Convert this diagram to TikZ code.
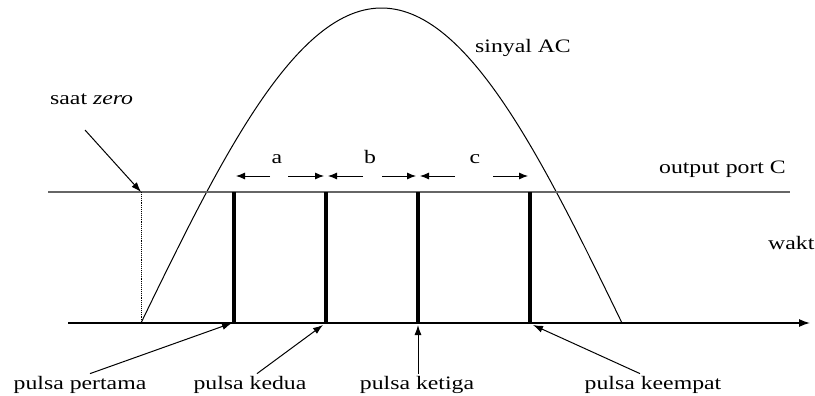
\documentclass[tikz,border=0pt]{standalone}
\usepackage{fontspec}
\setmainfont{Liberation Serif}[FakeStretch=1.25]
\usetikzlibrary{arrows.meta}
\begin{document}
\begin{tikzpicture}[x=1pt,y=-1pt,
  lbl/.style={font=\fontsize{19}{22}\selectfont, inner sep=0pt, anchor=base},
  ptr/.style={line width=1pt, -{Latex[length=10pt,width=7pt]}},
  dimarr/.style={line width=0.9pt, -{Latex[length=9pt,width=7pt]}},
  pulse/.style={line width=4pt},
]
\useasboundingbox[fill=white] (0,0) rectangle (815,396);
% baseline coordinates
\coordinate (ax0) at (68,323);
\coordinate (ax1) at (810,323);
\coordinate (oc0) at (48,192);
\coordinate (oc1) at (790,192);
\coordinate (z0) at (141,192);
\coordinate (z1) at (141,323);
\foreach \n/\x in {1/234,2/326,3/418,4/530}{
  \coordinate (pt\n) at (\x,192);
  \coordinate (pb\n) at (\x,323);
}
% sine signal
\draw[line width=1pt] plot[domain=0:180, samples=120] ({141+2.67222*\x}, {323-315*sin(\x)});
% output port C line
\draw[line width=1.8pt, black!60] (oc0) -- (oc1);
% time axis
\draw[line width=1.4pt, -{Latex[length=11pt,width=8pt]}] (ax0) -- (ax1);
% zero marker
\draw[densely dotted, line width=0.9pt] (z0) -- (z1);
% pulses
\foreach \n in {1,2,3,4}{ \draw[pulse] (pt\n) -- (pb\n); }
% dimension arrows
\coordinate (aL) at (236,176); \coordinate (aM1) at (270,176); \coordinate (aM2) at (288,176); \coordinate (aR) at (324,176);
\coordinate (bL) at (328,176); \coordinate (bM1) at (363,176); \coordinate (bM2) at (382,176); \coordinate (bR) at (416,176);
\coordinate (cL) at (420,176); \coordinate (cM1) at (455,176); \coordinate (cM2) at (493,176); \coordinate (cR) at (528,176);
\draw[dimarr] (aM1) -- (aL); \draw[dimarr] (aM2) -- (aR);
\draw[dimarr] (bM1) -- (bL); \draw[dimarr] (bM2) -- (bR);
\draw[dimarr] (cM1) -- (cL); \draw[dimarr] (cM2) -- (cR);
\node[lbl] (la) at (277,163) {a};
\node[lbl] (lb) at (370,163) {b};
\node[lbl] (lc) at (475,163) {c};
% labels
\node[lbl] (sinyal) at (523,53) {sinyal AC};
\node[lbl, anchor=base east] (port) at (786,173) {output port C};
\node[lbl, anchor=base west] (waktu) at (768,249) {wakt};
\node[lbl, anchor=base west] (zero) at (50,105) {saat \textit{zero}};
\node[lbl] (pertama) at (80,389) {pulsa pertama};
\node[lbl] (kedua) at (250,389) {pulsa kedua};
\node[lbl] (ketiga) at (417,389) {pulsa ketiga};
\node[lbl] (keempat) at (653,389) {pulsa keempat};
% pointers
\coordinate (zs) at (85,130);
\draw[ptr] (zs) -- (z0);
\draw[ptr] ([xshift=10pt,yshift=2pt]pertama.north) -- ([xshift=-2pt]pb1);
\draw[ptr] ([xshift=7pt,yshift=2pt]kedua.north) -- ([xshift=-3pt,yshift=-2pt]pb2);
\draw[ptr] ([yshift=2pt]ketiga.north -| pb3) -- ([yshift=-2pt]pb3);
\draw[ptr] ([xshift=-13pt,yshift=2pt]keempat.north) -- ([xshift=3pt,yshift=-2pt]pb4);
\end{tikzpicture}
\end{document}
